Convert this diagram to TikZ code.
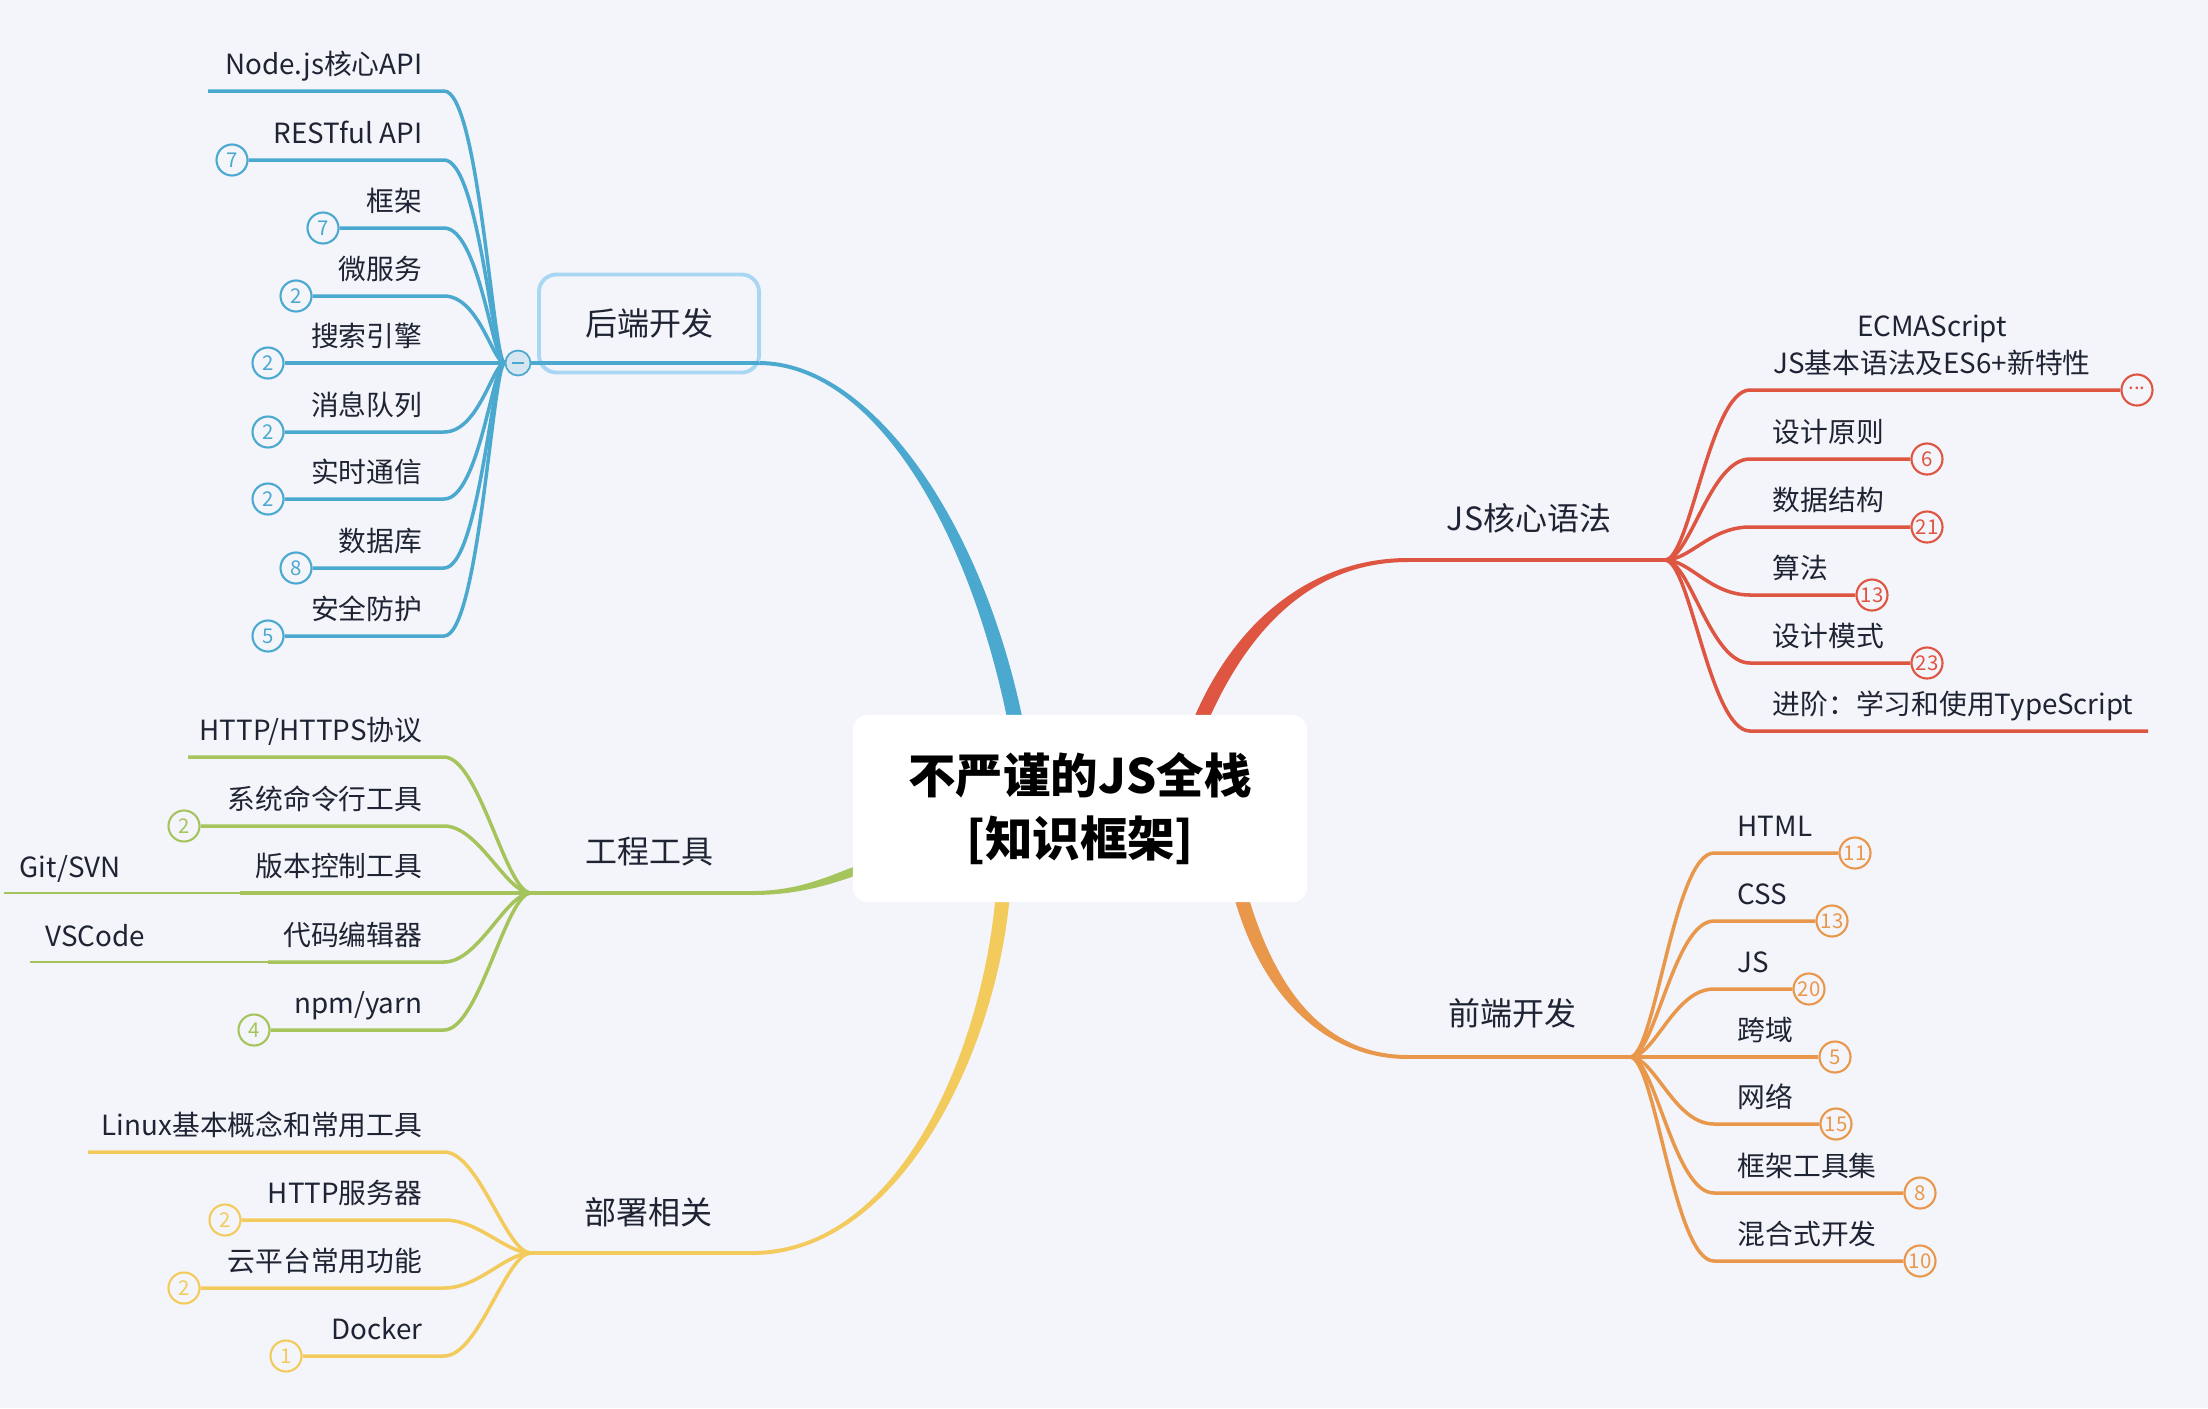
\documentclass[tikz,border=0pt]{standalone}
\usepackage{fontspec}
\setmainfont{Noto Sans CJK SC}
\usepackage{xcolor}
\usetikzlibrary{calc,backgrounds}

\definecolor{bgc}{HTML}{F4F5FA}
\definecolor{textc}{HTML}{1E2433}
\definecolor{bluec}{HTML}{4BA9CF}
\definecolor{bluebox}{HTML}{A9D7F3}
\definecolor{bluehub}{HTML}{D5E6F1}
\definecolor{redc}{HTML}{DE5542}
\definecolor{orangec}{HTML}{E9974B}
\definecolor{greenc}{HTML}{A6C45C}
\definecolor{yellowc}{HTML}{F3CA5C}

\begin{document}
\begin{tikzpicture}[
  x=0.01cm, y=-0.01cm,
  root/.style={fill=white, rounded corners=0.15cm, minimum width=4.54cm, minimum height=1.87cm, align=center, font=\fontsize{13.5}{18}\selectfont\bfseries, text=black},
  topic/.style={font=\fontsize{9.1}{11}\selectfont, text=textc, inner sep=0pt},
  leaf/.style={font=\fontsize{7.9}{10.5}\selectfont, text=textc, inner sep=0pt},
  cnt/.style={circle, draw=#1, fill=bgc, text=#1, line width=0.6pt, minimum size=0.31cm, inner sep=0pt, font=\fontsize{5.8}{7}\selectfont},
  stem/.style={draw=#1, line width=1.15pt},
  twig/.style={draw=#1, line width=1pt},
  subtwig/.style={draw=#1, line width=0.55pt},
]
\useasboundingbox (0,0) rectangle (2208,1408);

% Central topic
\node[root] (root) at (1080,808.5) {不严谨的JS全栈\\{}[知识框架]};

% Main topics
\node[topic, draw=bluebox, line width=1.1pt, rounded corners=5pt, minimum width=2.2cm, minimum height=0.98cm] (back) at (649,323.5) {后端开发};
\node[topic] (eng) at (649,852) {工程工具};
\node[topic] (dep) at (648,1212) {部署相关};
\node[topic] (core) at (1529,518) {JS核心语法};
\node[topic] (front) at (1512,1013) {前端开发};

% Hubs and joints
\node[circle, draw=bluec, fill=bluehub, line width=0.5pt, minimum size=0.25cm, inner sep=0pt] (bhub) at (518,363) {};
\coordinate (bjoin) at (759,363);
\coordinate (bend) at ($(root.north)+(-64,10)$);
\coordinate (rhub) at (1665,560);
\coordinate (rjoin) at (1408,560);
\coordinate (rend) at ($(root.north)+(119,10)$);
\coordinate (ohub) at (1630,1057);
\coordinate (ojoin) at (1408,1057);
\coordinate (oend) at ($(root.south)+(160,-10)$);
\coordinate (ghub) at (531,893);
\coordinate (gjoin) at (752,893);
\coordinate (gend) at ($(root.west)+(10,60)$);
\coordinate (yhub) at (531,1253);
\coordinate (yjoin) at (752,1253);
\coordinate (yend) at ($(root.south)+(-77,-10)$);

% Background and tapered branches
\begin{scope}[on background layer]
\fill[bgc] (0,0) rectangle (2208,1408);
\fill[bluec] ($(bjoin)+(0,-2)$) .. controls (870,361) and (982,519) .. ($(bend)+(7.4,-1.4)$)
  -- ($(bend)-(7.4,-1.4)$) .. controls (968,521) and (870,365) .. ($(bjoin)+(0,2)$) -- cycle;
\fill[redc] ($(rjoin)+(0,-2)$) .. controls (1320,558) and (1238,612) .. ($(rend)+(-6.5,-2.7)$)
  -- ($(rend)+(6.5,2.7)$) .. controls (1252,618) and (1320,562) .. ($(rjoin)+(0,2)$) -- cycle;
\fill[orangec] ($(ojoin)+(0,-2)$) .. controls (1330,1055) and (1277,998) .. ($(oend)+(6.7,-1.9)$)
  -- ($(oend)+(-6.7,1.9)$) .. controls (1263,1002) and (1330,1059) .. ($(ojoin)+(0,2)$) -- cycle;
\fill[yellowc] ($(yjoin)+(0,-2)$) .. controls (900,1251) and (983,1049) .. ($(yend)+(-7,-0.6)$)
  -- ($(yend)+(7,0.6)$) .. controls (997,1051) and (900,1255) .. ($(yjoin)+(0,2)$) -- cycle;
\fill[greenc] ($(gjoin)+(0,-2)$) .. controls (800,891) and (828,876) .. ($(gend)+(-1.5,-4.2)$)
  -- ($(gend)+(1.5,4.2)$) .. controls (832,884) and (800,895) .. ($(gjoin)+(0,2)$) -- cycle;
\end{scope}

\draw[stem=bluec] (bhub) -- (bjoin);
\draw[stem=redc] (rjoin) -- (rhub);
\draw[stem=orangec] (ojoin) -- (ohub);
\draw[stem=greenc] (ghub) -- (gjoin);
\draw[stem=yellowc] (yhub) -- (yjoin);
\draw[bluec, line width=0.6pt] ($(bhub)+(-6,0)$) -- ($(bhub)+(6,0)$);

% Backend leaves
\coordinate (bx) at (444,363);
\node[leaf, anchor=base east] (b1) at (423,74) {Node.js核心API};
\node[leaf, anchor=base east] (b2) at (423,143) {RESTful API};
\node[leaf, anchor=base east] (b3) at (423,211) {框架};
\node[leaf, anchor=base east] (b4) at (423,279) {微服务};
\node[leaf, anchor=base east] (b5) at (423,346) {搜索引擎};
\node[leaf, anchor=base east] (b6) at (423,415) {消息队列};
\node[leaf, anchor=base east] (b7) at (423,482) {实时通信};
\node[leaf, anchor=base east] (b8) at (423,551) {数据库};
\node[leaf, anchor=base east] (b9) at (423,619) {安全防护};
\coordinate (b1n) at (208,91);
\node[cnt=bluec] (b2n) at (232,160) {7};
\node[cnt=bluec] (b3n) at (323,228) {7};
\node[cnt=bluec] (b4n) at (296,296) {2};
\node[cnt=bluec] (b5n) at (268,363) {2};
\node[cnt=bluec] (b6n) at (268,432) {2};
\node[cnt=bluec] (b7n) at (268,499) {2};
\node[cnt=bluec] (b8n) at (296,568) {8};
\node[cnt=bluec] (b9n) at (268,636) {5};
\draw[twig=bluec] (b1n) -- (b1n -| bx) .. controls +(35,0) and +(-25,0) .. (bhub);
\draw[twig=bluec] (b2n) -- (b2n -| bx) .. controls +(35,0) and +(-25,0) .. (bhub);
\draw[twig=bluec] (b3n) -- (b3n -| bx) .. controls +(35,0) and +(-25,0) .. (bhub);
\draw[twig=bluec] (b4n) -- (b4n -| bx) .. controls +(35,0) and +(-25,0) .. (bhub);
\draw[twig=bluec] (b5n) -- (bhub);
\draw[twig=bluec] (b6n) -- (b6n -| bx) .. controls +(35,0) and +(-25,0) .. (bhub);
\draw[twig=bluec] (b7n) -- (b7n -| bx) .. controls +(35,0) and +(-25,0) .. (bhub);
\draw[twig=bluec] (b8n) -- (b8n -| bx) .. controls +(35,0) and +(-25,0) .. (bhub);
\draw[twig=bluec] (b9n) -- (b9n -| bx) .. controls +(35,0) and +(-25,0) .. (bhub);

% Engineering tools leaves
\coordinate (gx) at (444,893);
\node[leaf, anchor=base east] (g1) at (423,740) {HTTP/HTTPS协议};
\node[leaf, anchor=base east] (g2) at (423,809) {系统命令行工具};
\node[leaf, anchor=base east] (g3) at (423,876) {版本控制工具};
\node[leaf, anchor=base east] (g4) at (423,945) {代码编辑器};
\node[leaf, anchor=base east] (g5) at (423,1013) {npm/yarn};
\node[leaf, anchor=base west] (g3a) at (19,877) {Git/SVN};
\node[leaf, anchor=base west] (g4a) at (45,946) {VSCode};
\coordinate (g1n) at (188,757);
\node[cnt=greenc] (g2n) at (184,826) {2};
\coordinate (g3n) at (240,893);
\coordinate (g4n) at (268,962);
\node[cnt=greenc] (g5n) at (254,1030) {4};
\coordinate (g3s) at (4,893);
\coordinate (g4s) at (30,962);
\draw[twig=greenc] (g1n) -- (g1n -| gx) .. controls +(35,0) and +(-25,0) .. (ghub);
\draw[twig=greenc] (g2n) -- (g2n -| gx) .. controls +(35,0) and +(-25,0) .. (ghub);
\draw[twig=greenc] (g3n) -- (ghub);
\draw[twig=greenc] (g4n) -- (g4n -| gx) .. controls +(35,0) and +(-25,0) .. (ghub);
\draw[twig=greenc] (g5n) -- (g5n -| gx) .. controls +(35,0) and +(-25,0) .. (ghub);
\draw[subtwig=greenc] (g3s) -- (g3n);
\draw[subtwig=greenc] (g4s) -- (g4n);

% Deployment leaves
\coordinate (yx) at (444,1253);
\node[leaf, anchor=base east] (y1) at (423,1135) {Linux基本概念和常用工具};
\node[leaf, anchor=base east] (y2) at (423,1203) {HTTP服务器};
\node[leaf, anchor=base east] (y3) at (423,1271) {云平台常用功能};
\node[leaf, anchor=base east] (y4) at (423,1339) {Docker};
\coordinate (y1n) at (88,1152);
\node[cnt=yellowc] (y2n) at (225,1220) {2};
\node[cnt=yellowc] (y3n) at (184,1288) {2};
\node[cnt=yellowc] (y4n) at (286,1356) {1};
\draw[twig=yellowc] (y1n) -- (y1n -| yx) .. controls +(35,0) and +(-25,0) .. (yhub);
\draw[twig=yellowc] (y2n) -- (y2n -| yx) .. controls +(35,0) and +(-25,0) .. (yhub);
\draw[twig=yellowc] (y3n) -- (y3n -| yx) .. controls +(35,0) and +(-25,0) .. (yhub);
\draw[twig=yellowc] (y4n) -- (y4n -| yx) .. controls +(35,0) and +(-25,0) .. (yhub);

% JS core leaves
\coordinate (rx) at (1750,560);
\node[leaf, align=center, anchor=south] (r1) at (1932,376) {ECMAScript\\JS基本语法及ES6+新特性};
\node[leaf, anchor=base west] (r2) at (1772,442) {设计原则};
\node[leaf, anchor=base west] (r3) at (1772,510) {数据结构};
\node[leaf, anchor=base west] (r4) at (1772,578) {算法};
\node[leaf, anchor=base west] (r5) at (1772,646) {设计模式};
\node[leaf, anchor=base west] (r6) at (1772,714) {进阶：学习和使用TypeScript};
\node[cnt=redc] (r1n) at (2137,390) {\raisebox{0.3ex}{...}};
\node[cnt=redc] (r2n) at (1927,459) {6};
\node[cnt=redc] (r3n) at (1927,527) {21};
\node[cnt=redc] (r4n) at (1872,595) {13};
\node[cnt=redc] (r5n) at (1927,663) {23};
\coordinate (r6n) at (2148,731);
\draw[twig=redc] (r1n) -- (r1n -| rx) .. controls +(-40,0) and +(25,0) .. (rhub);
\draw[twig=redc] (r2n) -- (r2n -| rx) .. controls +(-40,0) and +(25,0) .. (rhub);
\draw[twig=redc] (r3n) -- (r3n -| rx) .. controls +(-40,0) and +(25,0) .. (rhub);
\draw[twig=redc] (r4n) -- (r4n -| rx) .. controls +(-40,0) and +(25,0) .. (rhub);
\draw[twig=redc] (r5n) -- (r5n -| rx) .. controls +(-40,0) and +(25,0) .. (rhub);
\draw[twig=redc] (r6n) -- (r6n -| rx) .. controls +(-40,0) and +(25,0) .. (rhub);

% Frontend leaves
\coordinate (ox) at (1714,1057);
\node[leaf, anchor=base west] (o1) at (1737,836) {HTML};
\node[leaf, anchor=base west] (o2) at (1737,904) {CSS};
\node[leaf, anchor=base west] (o3) at (1737,972) {JS};
\node[leaf, anchor=base west] (o4) at (1737,1040) {跨域};
\node[leaf, anchor=base west] (o5) at (1737,1107) {网络};
\node[leaf, anchor=base west] (o6) at (1737,1176) {框架工具集};
\node[leaf, anchor=base west] (o7) at (1737,1244) {混合式开发};
\node[cnt=orangec] (o1n) at (1855,853) {11};
\node[cnt=orangec] (o2n) at (1832,921) {13};
\node[cnt=orangec] (o3n) at (1809,989) {20};
\node[cnt=orangec] (o4n) at (1835,1057) {5};
\node[cnt=orangec] (o5n) at (1836,1124) {15};
\node[cnt=orangec] (o6n) at (1920,1193) {8};
\node[cnt=orangec] (o7n) at (1920,1261) {10};
\draw[twig=orangec] (o1n) -- (o1n -| ox) .. controls +(-40,0) and +(25,0) .. (ohub);
\draw[twig=orangec] (o2n) -- (o2n -| ox) .. controls +(-40,0) and +(25,0) .. (ohub);
\draw[twig=orangec] (o3n) -- (o3n -| ox) .. controls +(-40,0) and +(25,0) .. (ohub);
\draw[twig=orangec] (o4n) -- (ohub);
\draw[twig=orangec] (o5n) -- (o5n -| ox) .. controls +(-40,0) and +(25,0) .. (ohub);
\draw[twig=orangec] (o6n) -- (o6n -| ox) .. controls +(-40,0) and +(25,0) .. (ohub);
\draw[twig=orangec] (o7n) -- (o7n -| ox) .. controls +(-40,0) and +(25,0) .. (ohub);
\end{tikzpicture}
\end{document}
